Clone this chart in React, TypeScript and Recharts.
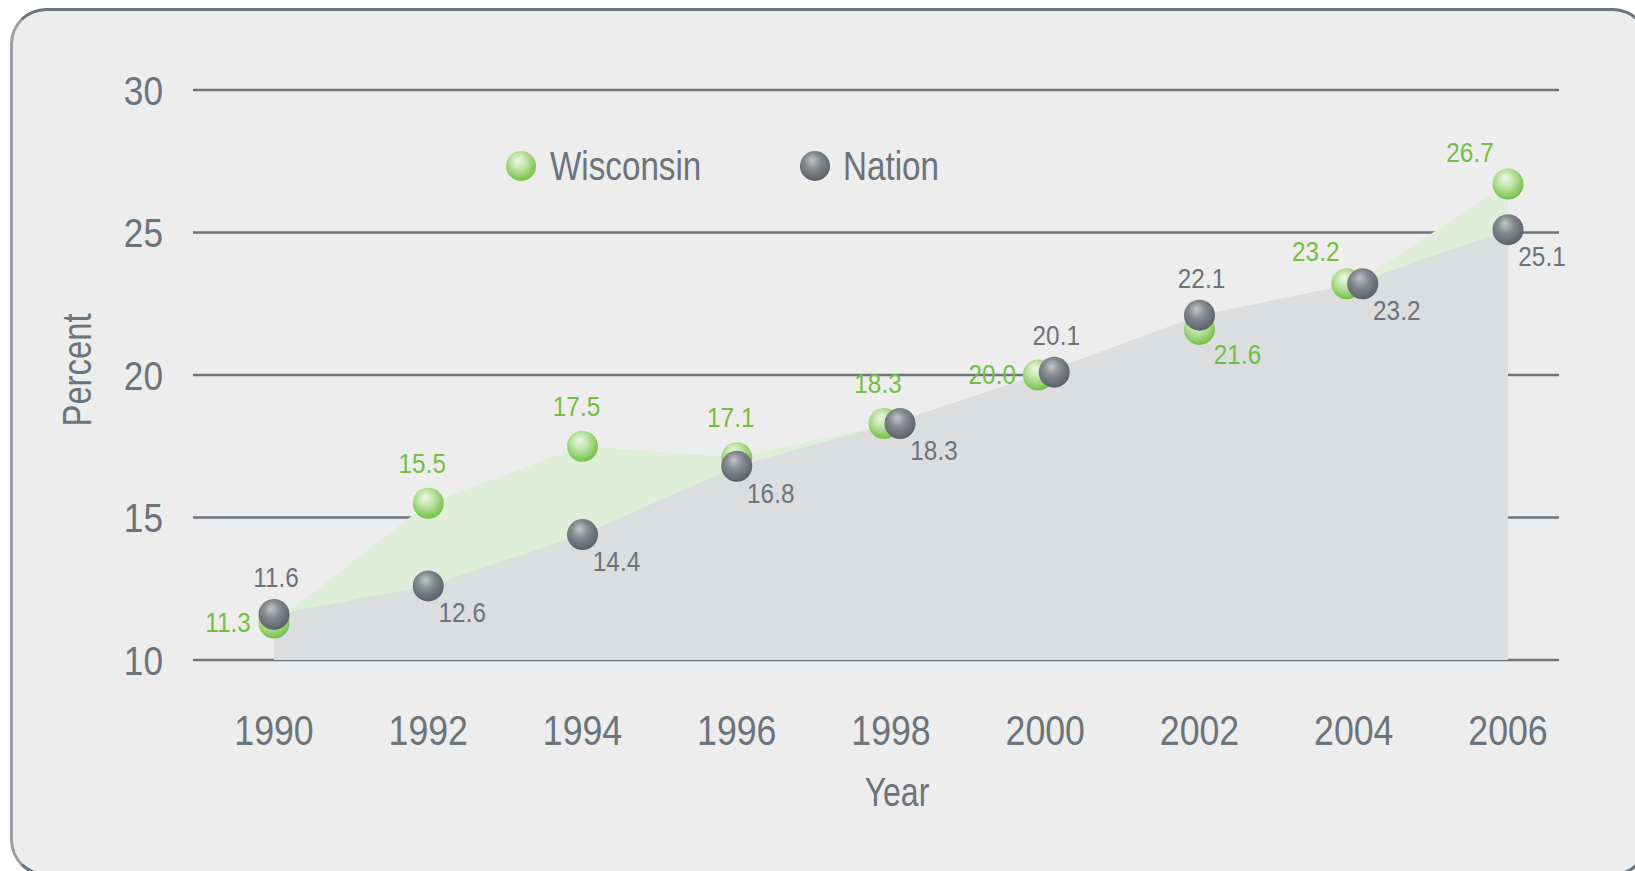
import { Area, ComposedChart, Line, XAxis, YAxis, CartesianGrid, LabelList } from "recharts";

// values
const years = [1990, 1992, 1994, 1996, 1998, 2000, 2002, 2004, 2006];
const wisconsin = [11.3, 15.5, 17.5, 17.1, 18.3, 20.0, 21.6, 23.2, 26.7];
const nation = [11.6, 12.6, 14.4, 16.8, 18.3, 20.1, 22.1, 23.2, 25.1];
const yTicks = [10, 15, 20, 25, 30];

const data = years.map((year, i) => ({ year, wi: wisconsin[i], na: nation[i] }));

const FONT = "'Liberation Sans', Arial, sans-serif";
const GREEN = "#72bf42";
const GREY = "#6b737b";

const isTie = (i: number) => Math.abs(wisconsin[i] - nation[i]) <= 0.15;

// the original uses a condensed face, so squeeze Liberation Sans horizontally
const Squeezed = ({ x, y, sx, size, fill, anchor = "middle", rotate = 0, children }: any) => (
  <g transform={`translate(${x},${y}) rotate(${rotate}) scale(${sx},1)`}>
    <text x={0} y={0} textAnchor={anchor} dominantBaseline="central" fontFamily={FONT} fontSize={size} fill={fill}>
      {children}
    </text>
  </g>
);

const SphereDefs = ({ prefix }: { prefix: string }) => (
  <defs>
    <radialGradient id={`${prefix}-green`} cx="45%" cy="40%" r="60%" fx="40%" fy="30%">
      <stop offset="0%" stopColor="#eef8e6" />
      <stop offset="45%" stopColor="#bfe3a6" />
      <stop offset="100%" stopColor="#74c146" />
    </radialGradient>
    <radialGradient id={`${prefix}-grey`} cx="45%" cy="40%" r="60%" fx="40%" fy="30%">
      <stop offset="0%" stopColor="#c3c6ca" />
      <stop offset="45%" stopColor="#858b91" />
      <stop offset="100%" stopColor="#5a6168" />
    </radialGradient>
  </defs>
);

// nudges the two spheres apart when the values coincide, like the original
const makeDot = (series: "wi" | "na") => (props: any) => {
  const { cx, cy, index } = props;
  const dx = isTie(index) ? (series === "wi" ? -7 : 9) : 0;
  return (
    <g key={`${series}-dot-${index}`}>
      <circle cx={cx + dx} cy={cy} r={15.5} fill={`url(#dot-${series === "wi" ? "green" : "grey"})`} />
    </g>
  );
};

const makeLabel = (series: "wi" | "na") => (props: any) => {
  const { x, y, value, index } = props;
  const w = wisconsin[index];
  const n = nation[index];
  let dx = 0;
  let dy = 0;
  if (series === "wi") {
    const shift = isTie(index) ? -7 : 0;
    if (w >= n) {
      if (index === years.length - 1 || (isTie(index) && index > 5)) {
        dx = -38; dy = -32;
      } else {
        dx = -6 + shift; dy = -40;
      }
    } else if (n - w <= 0.3) {
      dx = -46 + shift; dy = 0;
    } else {
      dx = 38; dy = 25;
    }
  } else {
    const shift = isTie(index) ? 9 : 0;
    if (n > w + 0.05) {
      dx = 2 + shift; dy = -37;
    } else {
      dx = 34 + shift; dy = 27;
    }
  }
  return (
    <Squeezed key={`${series}-lbl-${index}`} x={x + dx} y={y + dy} sx={0.9} size={27} fill={series === "wi" ? GREEN : GREY}>
      {Number(value).toFixed(1)}
    </Squeezed>
  );
};

const XTick = ({ x, y, payload }: any) => (
  <Squeezed x={x} y={y + 70} sx={0.85} size={42} fill={GREY}>
    {payload.value}
  </Squeezed>
);

const YTick = ({ x, y, payload }: any) => (
  <Squeezed x={x} y={y + 1} sx={0.88} size={40} fill={GREY} anchor="end">
    {payload.value}
  </Squeezed>
);

const LegendBall = ({ kind }: { kind: "green" | "grey" }) => (
  <svg width={32} height={32} style={{ display: "block" }}>
    <SphereDefs prefix={`lg-${kind}`} />
    <circle cx={16} cy={16} r={15} fill={`url(#lg-${kind}-${kind})`} />
  </svg>
);

const legendText: any = {
  position: "absolute",
  top: 0,
  fontFamily: FONT,
  fontSize: 40,
  lineHeight: "32px",
  color: GREY,
  transform: "scaleX(0.83)",
  transformOrigin: "left center",
  whiteSpace: "nowrap",
};

export default function App() {
  return (
    <div style={{ position: "absolute", left: 0, top: 0, width: 1635, height: 871, overflow: "hidden", background: "#ffffff" }}>
      <div
        style={{
          position: "absolute",
          left: 10,
          top: 8,
          width: 1639,
          height: 868,
          boxSizing: "border-box",
          border: "3px solid #6b747c",
          borderLeftColor: "#9aa0a5",
          borderRadius: 36,
          background: "#ededed",
        }}
      />
      <div style={{ position: "absolute", left: 0, top: 0 }}>
        <ComposedChart width={1635} height={871} data={data} margin={{ top: 90, right: 76, bottom: 151, left: 0 }}>
          <SphereDefs prefix="dot" />
          <CartesianGrid vertical={false} stroke="#6b757e" strokeWidth={2.5} />
          <XAxis
            dataKey="year"
            type="number"
            domain={[1990, 2006]}
            ticks={years}
            padding={{ left: 81, right: 51 }}
            axisLine={false}
            tickLine={false}
            tickSize={0}
            tickMargin={0}
            height={60}
            tick={<XTick />}
            label={() => (
              <Squeezed x={897} y={792} sx={0.8} size={40} fill={GREY}>
                Year
              </Squeezed>
            )}
          />
          <YAxis
            type="number"
            domain={[10, 30]}
            ticks={yTicks}
            width={193}
            axisLine={false}
            tickLine={false}
            tickSize={0}
            tickMargin={30}
            tick={<YTick />}
            label={() => (
              <Squeezed x={77} y={370} rotate={-90} sx={0.8} size={41} fill={GREY}>
                Percent
              </Squeezed>
            )}
          />
          <Area dataKey="wi" type="linear" stroke="none" fill="#dfeed8" fillOpacity={1} isAnimationActive={false} />
          <Area dataKey="na" type="linear" stroke="none" fill="#dcdddf" fillOpacity={1} isAnimationActive={false} />
          <Line dataKey="wi" stroke="none" dot={makeDot("wi")} activeDot={false} isAnimationActive={false}>
            <LabelList dataKey="wi" content={makeLabel("wi")} />
          </Line>
          <Line dataKey="na" stroke="none" dot={makeDot("na")} activeDot={false} isAnimationActive={false}>
            <LabelList dataKey="na" content={makeLabel("na")} />
          </Line>
        </ComposedChart>
      </div>
      {/* legend */}
      <div style={{ position: "absolute", left: 505, top: 150, width: 500, height: 32 }}>
        <div style={{ position: "absolute", left: 0, top: 0 }}>
          <LegendBall kind="green" />
        </div>
        <span style={{ ...legendText, left: 45 }}>Wisconsin</span>
        <div style={{ position: "absolute", left: 294, top: 0 }}>
          <LegendBall kind="grey" />
        </div>
        <span style={{ ...legendText, left: 338 }}>Nation</span>
      </div>
    </div>
  );
}
